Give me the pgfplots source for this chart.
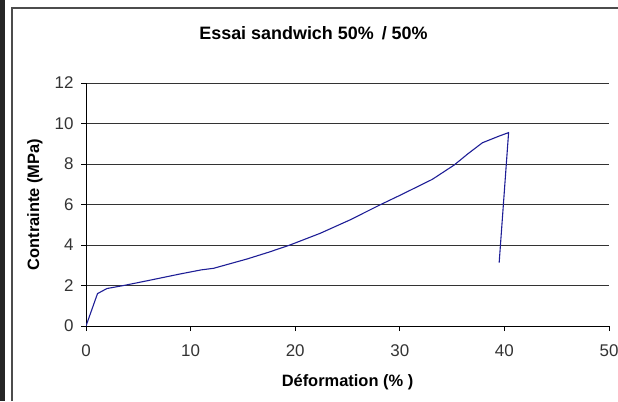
\documentclass[border=0pt]{standalone}
\usepackage{pgfplots}
\pgfplotsset{compat=1.18}
\usepackage{fontspec}
\setmainfont{Liberation Sans}
\definecolor{curve}{RGB}{30,30,150}

\begin{document}
\begin{tikzpicture}[x=1bp,y=1bp]
  \path[use as bounding box] (0,0) rectangle (618,401);
  % window border remnants
  \fill[black!85] (0,0) rectangle (5,401);
  \draw[black!70, line width=1.2bp] (12,0) -- (12,393) -- (618,393);

  \begin{axis}[
      scale only axis,
      width=523bp, height=243bp,
      at={(86bp,75bp)}, anchor=south west,
      xmin=0, xmax=50, ymin=0, ymax=12,
      xtick={0,10,...,50}, ytick={0,2,...,12},
      axis x line*=bottom, axis y line*=left,
      axis line style={black, line width=0.8bp},
      ymajorgrids,
      grid style={black!80, line width=0.8bp},
      tick align=outside,
      major tick length=5bp,
      tick style={black, line width=0.8bp},
      tick label style={font=\fontsize{17}{18}\selectfont, text=black!80},
      xticklabel style={yshift=-10bp},
      yticklabel style={xshift=-4bp},
      /pgf/number format/assume math mode=true,
      xlabel={\bfseries Déformation (\% )},
      ylabel={\bfseries Contrainte (MPa)},
      label style={font=\fontsize{16.5}{18}\selectfont},
      xlabel style={at={(axis description cs:0.5,0)}, anchor=center, yshift=-56bp},
      ylabel style={at={(axis description cs:0,0.5)}, anchor=center, xshift=0bp, yshift=51bp},
      title={\bfseries Essai sandwich 50\% \,/ 50\%},
      title style={font=\fontsize{18}{20}\selectfont, at={(axis description cs:0.435,1)}, anchor=center, yshift=44bp},
    ]
    \addplot[curve, line width=1.1bp] coordinates {
      (0,0) (1.1,1.6) (2,1.85) (3.6,2.0) (6,2.25) (9,2.57) (11,2.77)
      (12.2,2.85) (15.4,3.31) (17.5,3.65) (19.5,4.0) (22.4,4.58) (25.2,5.23)
      (28.1,5.98) (30,6.45) (33.1,7.24) (35.2,7.95) (36.5,8.5) (37.9,9.05)
      (39.5,9.38) (40.4,9.55) (39.5,3.13)
    };
  \end{axis}
\end{tikzpicture}
\end{document}
